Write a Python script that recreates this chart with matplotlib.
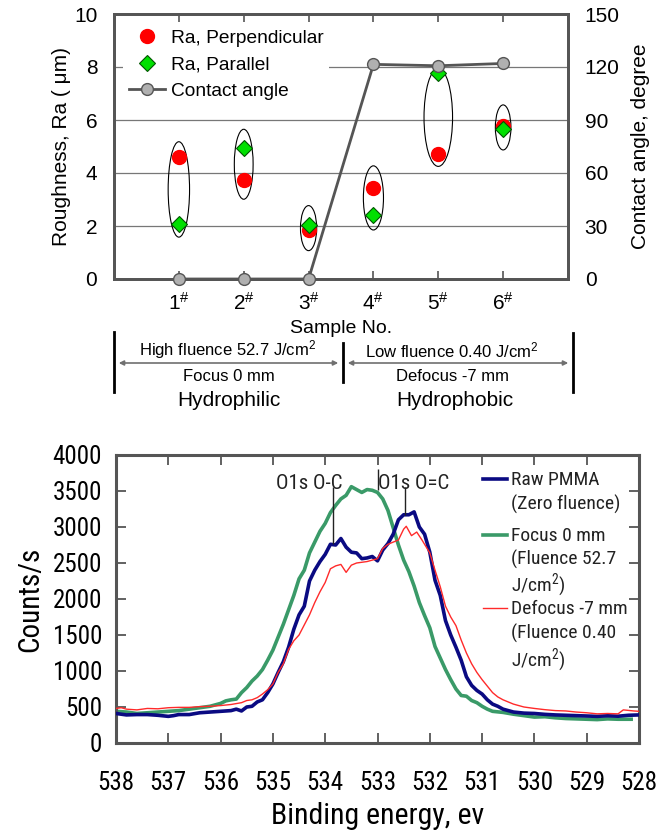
import matplotlib
matplotlib.use('Agg')
import matplotlib.pyplot as plt
from matplotlib.patches import Ellipse, FancyArrowPatch
from matplotlib.lines import Line2D
from matplotlib import font_manager
from matplotlib.font_manager import FontProperties
import numpy as np

plt.rcParams['font.family'] = ['Liberation Sans', 'DejaVu Sans']
plt.rcParams['mathtext.default'] = 'regular'


def _pick_narrow():
    best = None
    for f in font_manager.fontManager.ttflist:
        if f.style != 'normal':
            continue
        if f.weight not in (400, 'normal', 'regular', 'book'):
            continue
        narrowish = ('Narrow' in f.name or 'Condensed' in f.name
                     or f.stretch in ('condensed', 'semi-condensed'))
        if not narrowish:
            continue
        rank = 0
        if 'Liberation' in f.name:
            rank = 3
        elif 'Roboto' in f.name or 'Noto Sans' in f.name:
            rank = 2
        elif 'Open Sans' in f.name:
            rank = 1
        if best is None or rank > best[0]:
            best = (rank, f.fname)
    return best[1] if best else None


NARROW_FILE = _pick_narrow()


def nfont(size):
    if NARROW_FILE:
        return FontProperties(fname=NARROW_FILE, size=size)
    return FontProperties(family='Liberation Sans', size=size * 0.93)


# ---------------- data: top panel ----------------
sample_labels = [r'1$^{\#}$', r'2$^{\#}$', r'3$^{\#}$', r'4$^{\#}$', r'5$^{\#}$', r'6$^{\#}$']
ra_perpendicular = [4.62, 3.74, 1.85, 3.45, 4.70, 5.77]
ra_parallel = [2.08, 4.96, 2.04, 2.40, 7.79, 5.67]
contact_angle = [0.0, 0.0, 0.0, 121.5, 120.7, 122.0]
top_legend = ['Ra, Perpendicular', 'Ra, Parallel', 'Contact angle']
# ellipses drawn around each pair (centre Ra, height, width in sample units)
ellipse_cy = [3.38, 4.33, 1.92, 3.06, 6.10, 5.72]
ellipse_h = [3.60, 2.64, 1.70, 2.42, 3.70, 1.70]
ellipse_w = [0.33, 0.29, 0.25, 0.31, 0.44, 0.24]

# ---------------- data: bottom panel ----------------
raw_e = [538.0, 537.9, 537.8, 537.6, 537.4, 537.2, 537.0, 536.9, 536.8, 536.6, 536.4, 536.2,
         536.0, 535.9, 535.8, 535.7, 535.6, 535.5, 535.4, 535.3, 535.2, 535.1, 535.0, 534.9,
         534.8, 534.7, 534.6, 534.5, 534.4, 534.3, 534.2, 534.1, 534.0, 533.9, 533.8, 533.7,
         533.6, 533.5, 533.4, 533.3, 533.2, 533.1, 533.0, 532.9, 532.8, 532.7, 532.6, 532.5,
         532.4, 532.3, 532.2, 532.1, 532.0, 531.9, 531.8, 531.7, 531.6, 531.5, 531.4, 531.3,
         531.2, 531.1, 531.0, 530.9, 530.8, 530.7, 530.6, 530.4, 530.2, 530.0, 529.8, 529.6,
         529.4, 529.2, 529.0, 528.8, 528.6, 528.4, 528.2, 528.0]
raw_c = [410, 400, 390, 395, 395, 385, 370, 380, 395, 395, 420, 430,
         440, 445, 450, 470, 445, 500, 510, 570, 600, 700, 820, 980,
         1130, 1330, 1580, 1780, 1900, 2250, 2400, 2520, 2620, 2760, 2750, 2840,
         2720, 2650, 2640, 2560, 2570, 2590, 2530, 2680, 2770, 2900, 3100, 3170,
         3170, 3210, 3000, 2900, 2650, 2260, 2050, 1700, 1500, 1330, 1150, 920,
         800, 730, 680, 600, 540, 510, 470, 430, 415, 410, 398, 390,
         385, 380, 375, 370, 378, 372, 385, 390]

focus_e = [538.0, 537.8, 537.6, 537.4, 537.2, 537.0, 536.8, 536.6, 536.4, 536.2, 536.0, 535.9,
           535.8, 535.7, 535.6, 535.5, 535.4, 535.3, 535.2, 535.1, 535.0, 534.9, 534.8, 534.7,
           534.6, 534.5, 534.4, 534.3, 534.2, 534.1, 534.0, 533.9, 533.8, 533.7, 533.6, 533.5,
           533.4, 533.3, 533.2, 533.1, 533.0, 532.9, 532.8, 532.7, 532.6, 532.5, 532.4, 532.3,
           532.2, 532.1, 532.0, 531.9, 531.8, 531.7, 531.6, 531.5, 531.4, 531.3, 531.2, 531.1,
           531.0, 530.9, 530.8, 530.6, 530.4, 530.2, 530.0, 529.8, 529.6, 529.4, 529.2, 529.0,
           528.8, 528.6, 528.4, 528.15]
focus_c = [440, 430, 410, 420, 430, 440, 450, 470, 490, 510, 550, 585,
           600, 610, 700, 770, 860, 930, 1020, 1150, 1290, 1470, 1650, 1850,
           2050, 2280, 2400, 2640, 2790, 2940, 3050, 3200, 3300, 3390, 3440, 3560,
           3520, 3480, 3520, 3510, 3480, 3390, 3230, 2990, 2750, 2540, 2380, 2180,
           1950, 1770, 1600, 1340, 1180, 1020, 880, 750, 660, 650, 590, 560,
           510, 470, 440, 425, 400, 380, 360, 365, 350, 340, 335, 330,
           325, 335, 330, 330]

defocus_e = [538.0, 537.9, 537.8, 537.6, 537.4, 537.2, 537.0, 536.8, 536.6, 536.4, 536.2, 536.0,
             535.8, 535.6, 535.5, 535.4, 535.3, 535.2, 535.1, 535.0, 534.9, 534.8, 534.7, 534.6,
             534.5, 534.4, 534.3, 534.2, 534.1, 534.0, 533.9, 533.8, 533.7, 533.6, 533.5, 533.4,
             533.3, 533.2, 533.1, 533.0, 532.9, 532.8, 532.7, 532.6, 532.5, 532.45, 532.35, 532.25,
             532.15, 532.0, 531.9, 531.8, 531.7, 531.6, 531.5, 531.4, 531.3, 531.2, 531.1, 531.0,
             530.9, 530.8, 530.7, 530.6, 530.4, 530.2, 530.0, 529.8, 529.6, 529.4, 529.2, 529.0,
             528.8, 528.6, 528.4, 528.3, 528.1, 528.0]
defocus_c = [480, 490, 470, 460, 480, 475, 490, 495, 495, 505, 510, 520,
             535, 560, 590, 600, 630, 680, 740, 820, 980, 1100, 1300, 1420,
             1500, 1640, 1780, 1950, 2100, 2230, 2420, 2460, 2480, 2370, 2470, 2500,
             2510, 2520, 2540, 2560, 2700, 2760, 2790, 2820, 2970, 3010, 2880, 2930,
             2820, 2640, 2400, 2170, 1900, 1750, 1630, 1430, 1250, 1100, 980, 880,
             790, 700, 640, 600, 540, 500, 480, 463, 450, 445, 430, 420,
             405, 410, 405, 460, 445, 440]

bottom_legend = [['Raw PMMA', '(Zero fluence)'],
                 ['Focus 0 mm', '(Fluence 52.7', 'J/cm$^{2}$)'],
                 ['Defocus -7 mm', '(Fluence 0.40', 'J/cm$^{2}$)']]
peak_labels = ['O1s O-C', 'O1s O=C']
peak_label_pos = [(534.30, 3600), (532.30, 3600)]
peak_lines = [(533.86, 2770, 3560), (532.47, 3170, 3560), (533.00, 3510, 3800)]

W, H = 661, 831
fig = plt.figure(figsize=(W / 100, H / 100), dpi=100)


def fx(px):
    return px / W


def fy(py):
    return 1 - py / H


SPINE = '#555555'

# ================= top panel =================
ax1 = fig.add_axes([fx(114), fy(279), (568 - 114) / W, (279 - 14) / H])
ax1.set_xlim(0, 7)
ax1.set_ylim(0, 10)
xs = np.arange(1, len(sample_labels) + 1)
for y in [2, 4, 6, 8]:
    ax1.axhline(y, color='#777777', lw=0.9, zorder=0)
for x, cy, h, w in zip(xs, ellipse_cy, ellipse_h, ellipse_w):
    ax1.add_patch(Ellipse((x, cy), w, h, fill=False, ec='black', lw=0.8, zorder=1))
ax1.plot(xs, ra_perpendicular, 'o', color='#ff0000', ms=10, mec='#ff0000', zorder=3)
ax1.plot(xs, ra_parallel, 'D', color='#00e000', ms=8.5, mec='#005500', mew=0.8, zorder=4)
ax1.set_xticks(xs)
ax1.set_xticklabels(sample_labels, fontsize=15)
ax1.set_yticks([0, 2, 4, 6, 8, 10])
ax1.tick_params(axis='x', direction='in', top=True, length=6, pad=9, color=SPINE, width=1.2)
ax1.tick_params(axis='y', direction='in', length=0, pad=12, labelsize=15)
ax1.set_xlabel('Sample No.', fontsize=14, labelpad=5)
ax1.set_ylabel('Roughness, Ra ( μm)', fontsize=15, labelpad=2)
for s in ax1.spines.values():
    s.set_color(SPINE)
    s.set_linewidth(2)

ax2 = ax1.twinx()
ax2.set_ylim(0, 150)
ax2.set_yticks([0, 30, 60, 90, 120, 150])
ax2.plot(xs, contact_angle, '-o', color='#555555', lw=2, ms=8.5, mfc='#b0b0b0',
         mec='#555555', mew=1, clip_on=False, zorder=5)
ax2.tick_params(axis='y', direction='in', length=0, pad=12, labelsize=15)
ax2.set_ylabel('Contact angle, degree', fontsize=15, labelpad=8)
for s in ax2.spines.values():
    s.set_color(SPINE)
    s.set_linewidth(2)

h_perp = Line2D([], [], ls='none', marker='o', color='#ff0000', ms=10)
h_par = Line2D([], [], ls='none', marker='D', color='#00e000', mec='#005500', mew=0.8, ms=8.5)
h_ca = Line2D([], [], ls='-', color='#555555', lw=2, marker='o', ms=8.5, mfc='#b0b0b0',
              mec='#555555')
leg = ax2.legend([h_perp, h_par, h_ca], top_legend, loc='upper left',
                 bbox_to_anchor=(0.02, 0.964), fontsize=13.8, frameon=True, framealpha=1,
                 facecolor='white', edgecolor='none', handlelength=1.9, handletextpad=0.3,
                 labelspacing=0.48, borderpad=0.3, borderaxespad=0, fancybox=False)
leg.set_zorder(10)

# group annotation below top panel
for x, y1, y2 in [(114, 332, 392), (343, 343, 382), (572.7, 333, 392)]:
    fig.add_artist(Line2D([fx(x), fx(x)], [fy(y1), fy(y2)], color='black', lw=2))
for xa, xb in [(116, 341), (345, 571)]:
    fig.add_artist(FancyArrowPatch((fx(xa), fy(363)), (fx(xb), fy(363)),
                                   arrowstyle='<|-|>', mutation_scale=7, color='#707070',
                                   lw=1.2, transform=fig.transFigure))
fig.text(fx(228), fy(350), 'High fluence 52.7 J/cm$^{2}$', ha='center', va='center', fontsize=12)
fig.text(fx(229), fy(377), 'Focus 0 mm', ha='center', va='center', fontsize=12)
fig.text(fx(229), fy(401), 'Hydrophilic', ha='center', va='center', fontsize=15)
fig.text(fx(452), fy(350), 'Low fluence 0.40 J/cm$^{2}$', ha='center', va='center', fontsize=12)
fig.text(fx(453), fy(377), 'Defocus -7 mm', ha='center', va='center', fontsize=12)
fig.text(fx(455), fy(401), 'Hydrophobic', ha='center', va='center', fontsize=15)

# ================= bottom panel =================
ax3 = fig.add_axes([fx(116), fy(743), (639 - 116) / W, (743 - 455) / H])
ax3.plot(raw_e, raw_c, color='#0a0a82', lw=2.6, zorder=3)
ax3.plot(focus_e, focus_c, color='#3a9a68', lw=2.6, zorder=2)
ax3.plot(defocus_e, defocus_c, color='#ff2a2a', lw=1.0, zorder=4)
ax3.set_xlim(538, 528)
ax3.set_ylim(0, 4000)
ax3.set_xticks(np.arange(538, 527, -1))
ax3.set_yticks(np.arange(0, 4001, 500))
ax3.tick_params(direction='in', top=True, right=True, length=7, width=1.3, color=SPINE)
ax3.tick_params(axis='x', pad=20)
ax3.tick_params(axis='y', pad=10)
for lab in ax3.get_xticklabels() + ax3.get_yticklabels():
    lab.set_fontproperties(nfont(18))
ax3.set_xlabel('Binding energy, ev', fontproperties=nfont(21.5), labelpad=5)
ax3.set_ylabel('Counts/s', fontproperties=nfont(21), labelpad=6)
for s in ax3.spines.values():
    s.set_color(SPINE)
    s.set_linewidth(2.2)

for (xe, yc), t in zip(peak_label_pos, peak_labels):
    ax3.text(xe, yc, t, ha='center', va='center', fontproperties=nfont(15), color='#222222')
for xe, y1, y2 in peak_lines:
    ax3.vlines(xe, y1, y2, color='#222222', lw=1.0, zorder=5)


# manual legend (axes coordinates)
def ax_x(px):
    return (px - 116) / (639 - 116)


def ax_y(py):
    return (743 - py) / (743 - 455)


legend_colors = ['#0a0a82', '#3a9a68', '#ff2a2a']
legend_lw = [2.6, 2.6, 1.0]
legend_rows = [[480, 504], [536, 559, 585], [609, 633, 660]]
for lines, col, lw, rows in zip(bottom_legend, legend_colors, legend_lw, legend_rows):
    ax3.plot([ax_x(483), ax_x(507)], [ax_y(rows[0] - 1), ax_y(rows[0] - 1)], color=col, lw=lw,
             transform=ax3.transAxes, clip_on=False)
    for txt, ry in zip(lines, rows):
        ax3.text(ax_x(511), ax_y(ry), txt, transform=ax3.transAxes, ha='left', va='center',
                 fontproperties=nfont(14), color='#222222')

fig.savefig('out.png', dpi=100)
